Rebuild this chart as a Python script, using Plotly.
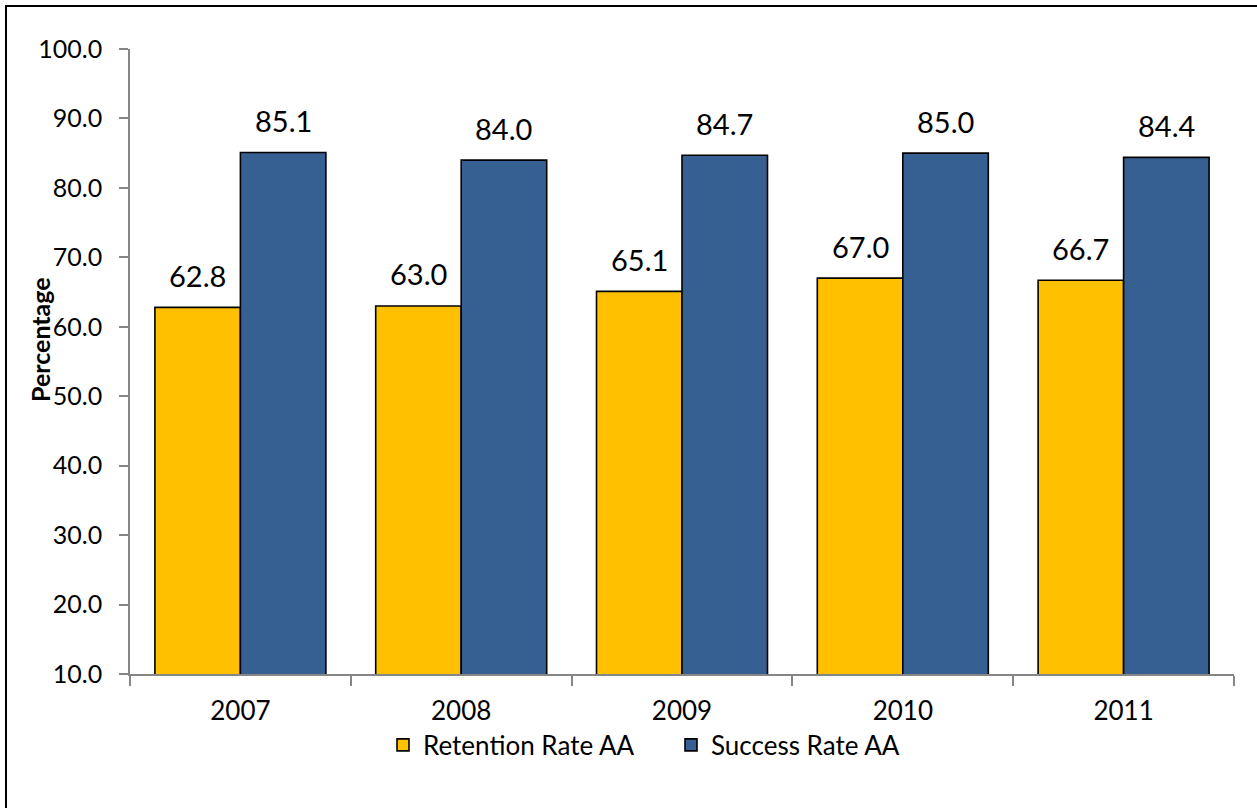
import plotly.graph_objects as go

# Yearly rates for AA students
years = ["2007", "2008", "2009", "2010", "2011"]
retention_rate = [62.8, 63.0, 65.1, 67.0, 66.7]
success_rate = [85.1, 84.0, 84.7, 85.0, 84.4]

FONT = "Lato"
YELLOW = "#FFC000"
BLUE = "#376092"
AXIS_GRAY = "#868686"

W, H = 1257, 808
M_L, M_R, M_T, M_B = 130, 23, 49, 134
plot_w = W - M_L - M_R
plot_h = H - M_T - M_B
BARGAP = 0.2255
bar_px = plot_w / len(years) * (1 - BARGAP) / 2

fig = go.Figure()
fig.add_trace(go.Bar(
    x=years, y=retention_rate, name="Retention Rate AA",
    marker=dict(color=YELLOW, line=dict(color="black", width=1.6)),
))
fig.add_trace(go.Bar(
    x=years, y=success_rate, name="Success Rate AA",
    marker=dict(color=BLUE, line=dict(color="black", width=1.6)),
))

# Value labels above each bar (x given as category index)
annotations = []
for series, shift in ((retention_rate, -bar_px / 2), (success_rate, bar_px / 2)):
    for i, v in enumerate(series):
        annotations.append(dict(
            x=i, y=v, xref="x", yref="y", text=f"{v:.1f}",
            showarrow=False, xshift=shift, yshift=32,
            yanchor="middle", xanchor="center",
            font=dict(family=FONT, size=29, color="black"),
        ))

# Rotated y-axis title
annotations.append(dict(
    x=(40 - M_L) / plot_w, y=(H - M_B - 340) / plot_h, xref="paper", yref="paper",
    text="<b>Percentage</b>", textangle=-90, showarrow=False,
    xanchor="center", yanchor="middle",
    font=dict(family=FONT, size=25, color="black"),
))

fig.update_layout(
    width=W, height=H,
    margin=dict(l=M_L, r=M_R, t=M_T, b=M_B, autoexpand=False),
    paper_bgcolor="white", plot_bgcolor="white",
    barmode="group", bargap=BARGAP, bargroupgap=0,
    font=dict(family=FONT, color="black"),
    annotations=annotations,
    showlegend=True,
    legend=dict(
        orientation="h", x=(383 - M_L) / plot_w, xanchor="left",
        y=-(745 - (H - M_B)) / plot_h, yanchor="middle",
        font=dict(family=FONT, size=26, color="black"),
        itemwidth=30, traceorder="normal", entrywidth=243,
        bgcolor="rgba(0,0,0,0)",
    ),
    shapes=[dict(
        type="rect", xref="paper", yref="paper",
        x0=(6 - M_L) / plot_w, x1=1.2,
        y0=-0.5, y1=1 + (M_T - 6) / plot_h,
        line=dict(color="black", width=2), fillcolor="rgba(0,0,0,0)",
        layer="below",
    )],
)

fig.update_xaxes(
    type="category", range=[-0.5, len(years) - 0.5],
    showline=True, linecolor=AXIS_GRAY, linewidth=1.5,
    ticks="outside", tickson="boundaries", ticklen=10, tickcolor=AXIS_GRAY,
    tickwidth=1.5, showgrid=False, zeroline=False,
    tickfont=dict(family=FONT, size=26, color="black"),
    ticklabelstandoff=13,
)
fig.update_yaxes(
    range=[10, 100], dtick=10, tick0=10, tickformat=".1f",
    showline=True, linecolor=AXIS_GRAY, linewidth=1.5,
    ticks="outside", ticklen=9, tickcolor=AXIS_GRAY, tickwidth=1.5,
    showgrid=False, zeroline=False,
    tickfont=dict(family=FONT, size=25, color="black"),
    ticklabelstandoff=12,
)

fig.write_html("out.html")
